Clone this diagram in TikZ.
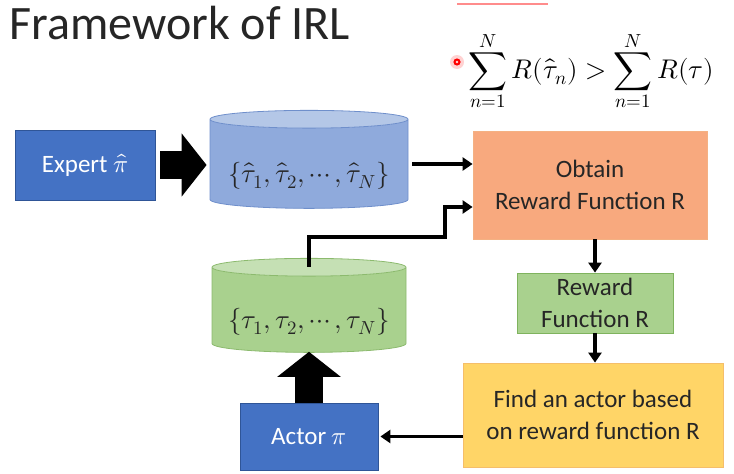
\documentclass[tikz,border=0pt]{standalone}
\usepackage{fontspec}
\usepackage{unicode-math}
\setmainfont{Carlito}
\setmathfont{Latin Modern Math}
\usetikzlibrary{arrows.meta,shapes.geometric}

\definecolor{expertblue}{HTML}{4472C4}
\definecolor{bluedark}{HTML}{2F5597}
\definecolor{cylblue}{HTML}{8FAADC}
\definecolor{cylbluetop}{HTML}{B4C7E7}
\definecolor{cylblueline}{HTML}{6F8FCB}
\definecolor{cylgreen}{HTML}{A9D18E}
\definecolor{cylgreentop}{HTML}{C5E0B4}
\definecolor{cylgreenline}{HTML}{8CBA6E}
\definecolor{obtainfill}{HTML}{F8A97E}
\definecolor{obtainline}{HTML}{F4B183}
\definecolor{rewardfill}{HTML}{A9D18E}
\definecolor{rewardline}{HTML}{7FB35E}
\definecolor{findfill}{HTML}{FFD567}
\definecolor{findline}{HTML}{F5BE6A}
\definecolor{textgray}{HTML}{262626}

% text sits in the body of a cylinder, below its top
\newcommand{\lowered}[1]{\raisebox{-18pt}[10pt][10pt]{#1}}

\begin{document}
\begin{tikzpicture}[
    x=1pt, y=-1pt,
    box/.style={rectangle, draw, line width=0.8pt, inner sep=0pt, align=center, text=textgray, font=\fontsize{25}{32}\selectfont},
    policy/.style={box, fill=expertblue, draw=bluedark, text=white},
    database/.style={cylinder, shape border rotate=90, aspect=0.11, draw, line width=0.8pt, cylinder uses custom fill, inner sep=0pt, font=\fontsize{27}{30}\selectfont, text=textgray},
    arrow/.style={line width=3.5pt, -{Triangle[length=10pt,width=13pt]}},
    bigarrow/.style={line width=28pt, -{Triangle[length=25pt,width=62pt]}}
]
\useasboundingbox (0,0) rectangle (734,474);

% Title and formula
\node[anchor=base west, font=\fontsize{48}{56}\selectfont, text=textgray] (title) at (6,39) {Framework of IRL};
\node[font=\fontsize{27}{32}\selectfont] (cond) at (591,71) {$\displaystyle\sum_{n=1}^{N} R(\hat{\tau}_n) > \sum_{n=1}^{N} R(\tau)$};

% pointer mark and underline
\draw[red!45, line width=2pt] (457,4) -- (548,4);
\fill[red!25, opacity=0.7] (457,62) circle (7);
\fill[red] (457,62) circle (3.6);
\fill[red!15] (457,62) circle (1.4);

% Left column
\node[policy, minimum width=140pt, minimum height=70pt] (expert) at (85,165) {Expert $\hat{\pi}$};
\node[database, minimum width=198pt, minimum height=98pt, draw=cylblueline, cylinder body fill=cylblue, cylinder end fill=cylbluetop] (demo) at (309,164) {\lowered{$\{\hat{\tau}_1,\hat{\tau}_2,\cdots,\hat{\tau}_N\}$}};
\node[database, minimum width=194pt, minimum height=94pt, draw=cylgreenline, cylinder body fill=cylgreen, cylinder end fill=cylgreentop] (actordata) at (309,310) {\lowered{$\{\tau_1,\tau_2,\cdots,\tau_N\}$}};
\node[policy, minimum width=138pt, minimum height=67pt] (actor) at (309,436.5) {Actor $\pi$};

% Right column
\node[box, fill=obtainfill, draw=obtainline, minimum width=234pt, minimum height=108pt] (obtain) at (590,185) {Obtain\\Reward Function R};
\node[box, fill=rewardfill, draw=rewardline, minimum width=156pt, minimum height=60pt] (reward) at (595,303) {Reward\\Function R};
\node[box, fill=findfill, draw=findline, minimum width=260pt, minimum height=104pt] (find) at (593,415) {Find an actor based\\on reward function R};

% Arrows
\coordinate (elbow) at (445,237);
\draw[bigarrow] ([xshift=5pt]expert.east) -- ([xshift=-3pt]expert.east -| demo.west);
\draw[arrow] ([xshift=4pt]demo.east) -- (demo.east -| obtain.west);
\draw[arrow] ([yshift=-9pt]actordata.north) |- (elbow) |- ([yshift=-22pt]obtain.west);
\draw[arrow] (obtain.south -| reward.north) -- (reward.north);
\draw[arrow] (reward.south) -- (reward.south |- find.north);
\draw[arrow] (find.west |- actor.east) -- ([xshift=2pt]actor.east);
\draw[bigarrow] (actor.north) -- ([yshift=1pt]actor.north |- actordata.south);

\end{tikzpicture}
\end{document}
